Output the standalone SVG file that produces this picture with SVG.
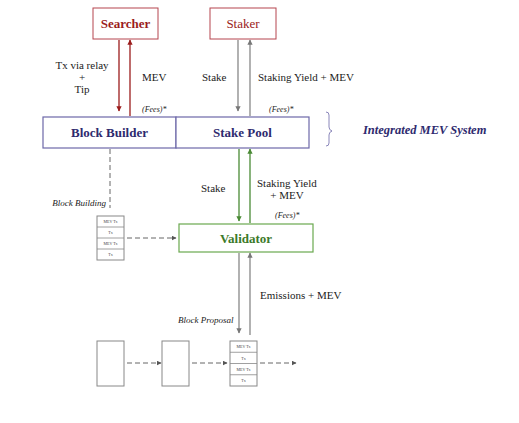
<svg xmlns="http://www.w3.org/2000/svg" width="519" height="423" viewBox="0 0 519 423">
<style>
text{font-family:"Liberation Serif","DejaVu Serif",serif;}
.lbl{font-size:11px;fill:#222;}
.fee{font-size:8px;font-style:italic;fill:#222;}
.ital{font-size:9px;font-style:italic;fill:#222;}
.tiny{font-size:4px;fill:#444;text-anchor:middle;}
.red{fill:none;stroke:#b5454f;stroke-width:1;}
.pur{fill:#fff;stroke:#6d68a8;stroke-width:1.2;}
.grn{fill:#fff;stroke:#6aa84f;stroke-width:1.2;}
.blk{fill:#fff;stroke:#888;stroke-width:1;}
.ar{stroke-width:1.3;fill:none;}
.dash{stroke:#666;stroke-width:1;stroke-dasharray:5,3;fill:none;}
</style>
<defs>
<marker id="mr" viewBox="0 0 10 10" refX="9" refY="5" markerWidth="4" markerHeight="4" orient="auto"><path d="M0,0L10,5L0,10z" fill="#9b1c1c"/></marker>
<marker id="mg" viewBox="0 0 10 10" refX="9" refY="5" markerWidth="4" markerHeight="4" orient="auto"><path d="M0,0L10,5L0,10z" fill="#777"/></marker>
<marker id="mgr" viewBox="0 0 10 10" refX="9" refY="5" markerWidth="4" markerHeight="4" orient="auto"><path d="M0,0L10,5L0,10z" fill="#4a8a35"/></marker>
<marker id="md" viewBox="0 0 10 10" refX="9" refY="5" markerWidth="5" markerHeight="5" orient="auto"><path d="M0,0L10,5L0,10z" fill="#555"/></marker>
</defs>
<rect width="519" height="423" fill="#fff"/>

<g id="searcher">
<rect class="red" x="93" y="8" width="65" height="31"/>
<text x="125.5" y="28" text-anchor="middle" font-size="13" font-weight="bold" fill="#9b1c1c">Searcher</text>
</g>
<g id="staker">
<rect class="red" x="210" y="8" width="66" height="31"/>
<text x="243" y="28" text-anchor="middle" font-size="13" fill="#9b1c1c">Staker</text>
</g>
<g id="block-builder">
<rect class="pur" x="43" y="117" width="133" height="31"/>
<text x="109.5" y="137" text-anchor="middle" font-size="13" font-weight="bold" fill="#2e2a6e">Block Builder</text>
</g>
<g id="stake-pool">
<rect class="pur" x="176" y="117" width="133" height="31"/>
<text x="242.5" y="137" text-anchor="middle" font-size="13" font-weight="bold" fill="#2e2a6e">Stake Pool</text>
</g>
<g id="integrated">
<path d="M326,112 q3,0 3,3 v12 q0,3 3,4 q-3,1 -3,4 v8 q0,3 -3,3" fill="none" stroke="#6d68a8" stroke-width="0.8"/>
<text x="363" y="134" font-size="12.5" font-weight="bold" font-style="italic" fill="#2e2a6e">Integrated MEV System</text>
</g>
<g id="validator">
<rect class="grn" x="179" y="224" width="134" height="28"/>
<text x="246" y="243" text-anchor="middle" font-size="13" font-weight="bold" fill="#3c7a2a">Validator</text>
</g>
<g id="mempool-block">
<rect class="blk" x="97" y="216" width="27" height="44"/>
<line x1="97" y1="227" x2="124" y2="227" stroke="#888" stroke-width="0.8"/>
<line x1="97" y1="238" x2="124" y2="238" stroke="#888" stroke-width="0.8"/>
<line x1="97" y1="249" x2="124" y2="249" stroke="#888" stroke-width="0.8"/>
<text class="tiny" x="110.5" y="223">MEV Tx</text>
<text class="tiny" x="110.5" y="234">Tx</text>
<text class="tiny" x="110.5" y="245">MEV Tx</text>
<text class="tiny" x="110.5" y="256">Tx</text>
</g>
<g id="chain-block-1"><rect class="blk" x="97" y="341" width="27" height="45"/></g>
<g id="chain-block-2"><rect class="blk" x="162" y="341" width="27" height="45"/></g>
<g id="chain-block-3">
<rect class="blk" x="230" y="341" width="27" height="45"/>
<line x1="230" y1="352.25" x2="257" y2="352.25" stroke="#888" stroke-width="0.8"/>
<line x1="230" y1="363.5" x2="257" y2="363.5" stroke="#888" stroke-width="0.8"/>
<line x1="230" y1="374.75" x2="257" y2="374.75" stroke="#888" stroke-width="0.8"/>
<text class="tiny" x="243.5" y="348">MEV Tx</text>
<text class="tiny" x="243.5" y="359.5">Tx</text>
<text class="tiny" x="243.5" y="370.5">MEV Tx</text>
<text class="tiny" x="243.5" y="382">Tx</text>
</g>

<g id="connectors">
<line class="ar" x1="119" y1="40" x2="119" y2="111" stroke="#9b1c1c" marker-end="url(#mr)"/>
<line class="ar" x1="130" y1="116" x2="130" y2="40" stroke="#9b1c1c" marker-end="url(#mr)"/>
<line class="ar" x1="238" y1="40" x2="238" y2="111" stroke="#888" marker-end="url(#mg)"/>
<line class="ar" x1="250" y1="116" x2="250" y2="40" stroke="#888" marker-end="url(#mg)"/>
<line class="ar" x1="239" y1="149" x2="239" y2="221" stroke="#4a8a35" marker-end="url(#mgr)"/>
<line class="ar" x1="250" y1="223" x2="250" y2="149" stroke="#4a8a35" marker-end="url(#mgr)"/>
<line class="ar" x1="239" y1="253" x2="239" y2="333" stroke="#888" marker-end="url(#mg)"/>
<line class="ar" x1="250" y1="335" x2="250" y2="253" stroke="#888" marker-end="url(#mg)"/>
<line class="dash" x1="110" y1="149" x2="110" y2="208"/>
<line class="dash" x1="127" y1="238" x2="176" y2="238" marker-end="url(#md)"/>
<line class="dash" x1="127" y1="363" x2="161" y2="363" marker-end="url(#md)"/>
<line class="dash" x1="192" y1="363" x2="227" y2="363" marker-end="url(#md)"/>
<line class="dash" x1="260" y1="363" x2="296" y2="363" marker-end="url(#md)"/>
</g>

<g id="labels">
<text class="lbl" x="82" y="69" text-anchor="middle">Tx via relay</text>
<text class="lbl" x="82" y="81" text-anchor="middle">+</text>
<text class="lbl" x="82" y="93" text-anchor="middle">Tip</text>
<text class="lbl" x="142" y="81">MEV</text>
<text class="fee" x="142" y="112">(Fees)*</text>
<text class="lbl" x="202" y="81">Stake</text>
<text class="lbl" x="258" y="81">Staking Yield + MEV</text>
<text class="fee" x="269" y="112">(Fees)*</text>
<text class="lbl" x="201" y="192">Stake</text>
<text class="lbl" x="257" y="187">Staking Yield</text>
<text class="lbl" x="287" y="199" text-anchor="middle">+ MEV</text>
<text class="fee" x="275" y="218">(Fees)*</text>
<text class="ital" x="106" y="206" text-anchor="end">Block Building</text>
<text class="lbl" x="260" y="299">Emissions + MEV</text>
<text class="ital" x="178" y="323">Block Proposal</text>
</g>
</svg>
